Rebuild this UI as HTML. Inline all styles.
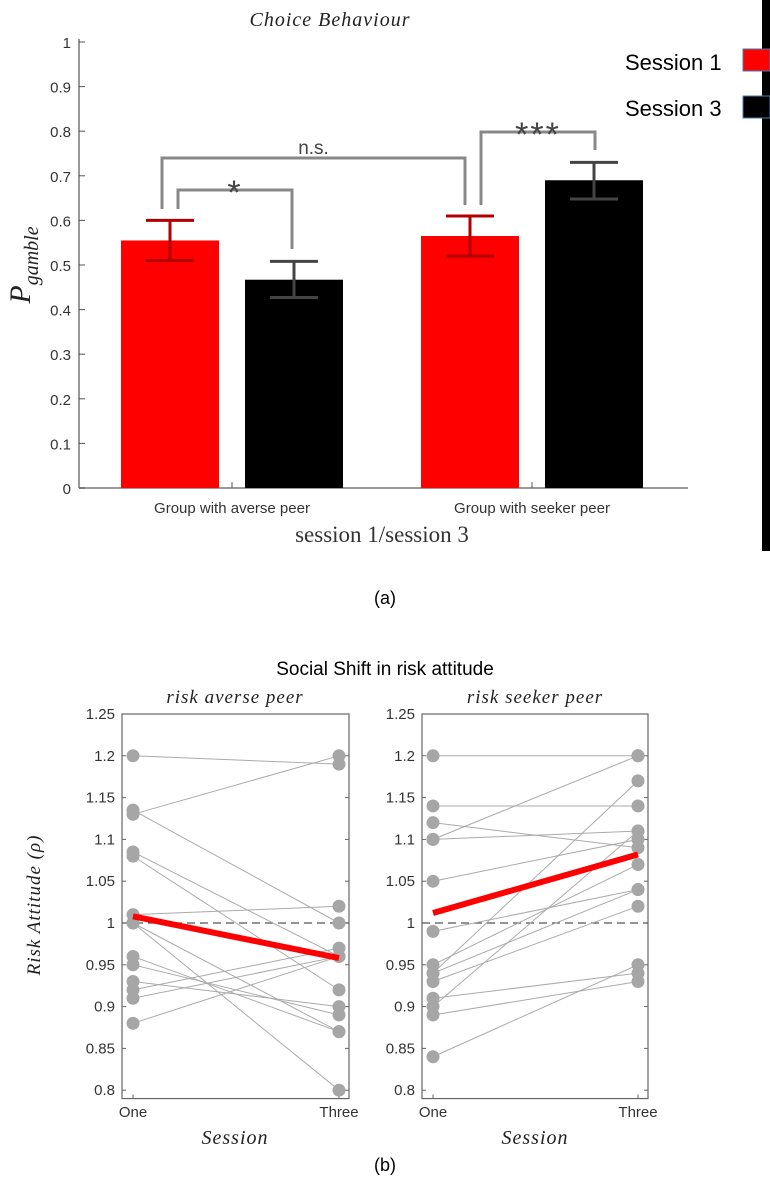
<!DOCTYPE html>
<html><head><meta charset="utf-8"><style>
body{margin:0;background:#fff;width:770px;height:1180px;overflow:hidden}
svg{display:block}
.tk{font-family:"Liberation Sans",sans-serif;font-size:15px;fill:#333}
.it{font-family:"Liberation Serif",serif;font-style:italic}
</style></head><body>
<svg id="s" width="770" height="1180">
<rect x="762" y="0" width="8" height="551" fill="#000"/>
<text x="330" y="26" text-anchor="middle" class="it" font-size="20" fill="#222" letter-spacing="1">Choice Behaviour</text>
<g>
<text x="625" y="70" font-family="Liberation Sans,sans-serif" font-size="22" fill="#000">Session 1</text>
<rect x="743" y="49" width="27" height="22" fill="#f00" stroke="#4a7ab0"/>
<text x="625" y="116" font-family="Liberation Sans,sans-serif" font-size="22" fill="#000">Session 3</text>
<rect x="743" y="96" width="27" height="22" fill="#000" stroke="#4a7ab0"/>
</g>
<text transform="translate(30,265) rotate(-90)" text-anchor="middle" class="it" font-size="30" fill="#222">P<tspan font-size="20" dy="8">gamble</tspan></text>
<text x="382" y="542" text-anchor="middle" font-family="Liberation Serif,serif" font-size="23" fill="#333">session 1/session 3</text>
<text x="385" y="604" text-anchor="middle" font-family="Liberation Sans,sans-serif" font-size="18" fill="#000">(a)</text>
<text x="385" y="675" text-anchor="middle" font-family="Liberation Sans,sans-serif" font-size="19" fill="#000">Social Shift in risk attitude</text>
<text x="235" y="703" text-anchor="middle" class="it" font-size="19" fill="#222" letter-spacing="1">risk averse peer</text>
<text x="535" y="703" text-anchor="middle" class="it" font-size="19" fill="#222" letter-spacing="1">risk seeker peer</text>
<text transform="translate(40,905) rotate(-90)" text-anchor="middle" class="it" font-size="19" fill="#222" letter-spacing="1">Risk Attitude (ρ)</text>
<text x="235" y="1144" text-anchor="middle" class="it" font-size="20" fill="#222" letter-spacing="1">Session</text>
<text x="535" y="1144" text-anchor="middle" class="it" font-size="20" fill="#222" letter-spacing="1">Session</text>
<text x="385" y="1171" text-anchor="middle" font-family="Liberation Sans,sans-serif" font-size="18" fill="#000">(b)</text>
</svg>
<script>
const NS="http://www.w3.org/2000/svg";
const svg=document.getElementById('s');
const groups=["Group with averse peer","Group with seeker peer"];
const session1=[0.555,0.565];
const session3=[0.467,0.69];
const err1Lo=[0.51,0.52],err1Hi=[0.6,0.61];
const err3Lo=[0.427,0.648],err3Hi=[0.508,0.73];
const yTicks=[0,0.1,0.2,0.3,0.4,0.5,0.6,0.7,0.8,0.9,1];
const averseOne=[1.2,1.13,1.135,1.085,1.08,1.01,1.0,1.0,0.96,0.95,0.93,0.92,0.91,0.88];
const averseThree=[1.19,1.2,1.0,0.96,0.92,1.02,0.87,0.8,0.87,0.89,0.9,0.97,0.96,0.96];
const seekerOne=[1.2,1.14,1.12,1.1,1.1,1.05,0.99,0.95,0.94,0.94,0.93,0.91,0.9,0.89,0.84];
const seekerThree=[1.2,1.14,1.09,1.2,1.11,1.1,1.04,1.07,1.04,1.17,1.02,0.94,1.11,0.93,0.95];
const meanAverse=[1.008,0.958];
const meanSeeker=[1.012,1.082];
const rTicks=[0.8,0.85,0.9,0.95,1,1.05,1.1,1.15,1.2,1.25];
function el(t,a,p){const e=document.createElementNS(NS,t);for(const k in a)e.setAttribute(k,a[k]);(p||svg).appendChild(e);return e;}
const yB=v=>488-v*446;
const ax=el('line',{x1:79,y1:39,x2:79,y2:488,stroke:'#555','stroke-width':1.2});

const bx=el('line',{x1:79,y1:488,x2:688,y2:488,stroke:'#999','stroke-width':2});

yTicks.forEach(v=>{el('line',{x1:79,y1:yB(v),x2:85,y2:yB(v),stroke:'#555'});
const t=el('text',{x:71,y:yB(v)+6,'text-anchor':'end',class:'tk'});t.textContent=v===0||v===1?String(v):v.toFixed(1);
});
const gx=[232,532];
groups.forEach((g,i)=>{
 el('line',{x1:gx[i],y1:488,x2:gx[i],y2:482,stroke:'#555'});
 const t=el('text',{x:gx[i],y:513,'text-anchor':'middle',class:'tk'});t.textContent=g;
 
 const c1=gx[i]-62,c3=gx[i]+62;
 const r1=el('rect',{x:c1-49,y:yB(session1[i]),width:98,height:488-yB(session1[i]),fill:'#f00'});
 
 const r3=el('rect',{x:c3-49,y:yB(session3[i]),width:98,height:488-yB(session3[i]),fill:'#000'});
 
 [[c1,err1Lo[i],err1Hi[i],'#b00000'],[c3,err3Lo[i],err3Hi[i],'#444']].forEach(([c,lo,hi,col])=>{
  const eb=el('path',{d:`M${c} ${yB(lo)}V${yB(hi)}M${c-24} ${yB(hi)}H${c+24}M${c-24} ${yB(lo)}H${c+24}`,stroke:col,'stroke-width':3,fill:'none'});
  
 });
});
function bracket(x1,l1,x2,l2,yt,label,name){
 const p=el('path',{d:`M${x1} ${l1}V${yt}H${x2}V${l2}`,stroke:'#888','stroke-width':3,fill:'none'});
 
 const big=label!=='n.s.';
 const t=el('text',{x:(x1+x2)/2,y:big?yt+14:yt-4,'text-anchor':'middle',style:`font-family:"Liberation Sans",sans-serif;font-size:${big?34:19}px;fill:#444;letter-spacing:${big?2:0}px`});t.textContent=label;
 
}
bracket(162,209,465,205,158,'n.s.','bracket-ns');
bracket(178,209,292,249,190,'*','bracket-averse');
bracket(481,205,595,150,132,'***','bracket-seeker');
const yR=v=>923+(1-v)*836;
function panel(L,R,one,three,mean,name){
 const px1=L+11,px2=R-10;
 const f=el('rect',{x:L,y:yR(1.25),width:R-L,height:yR(0.79)-yR(1.25),fill:'none',stroke:'#666','stroke-width':1.2});
 
 rTicks.forEach(v=>{el('line',{x1:L,y1:yR(v),x2:L+4,y2:yR(v),stroke:'#666'});el('line',{x1:R,y1:yR(v),x2:R-4,y2:yR(v),stroke:'#666'});
  const t=el('text',{x:L-7,y:yR(v)+5,'text-anchor':'end',class:'tk'});t.textContent=String(v);
  });
 [[px1,'One'],[px2,'Three']].forEach(([x,s])=>{el('line',{x1:x,y1:yR(0.79),x2:x,y2:yR(0.79)-4,stroke:'#666'});
  const t=el('text',{x:x,y:1117,'text-anchor':'middle',class:'tk'});t.textContent=s;
  });
 const d=el('line',{x1:L,y1:yR(1),x2:R,y2:yR(1),stroke:'#555','stroke-dasharray':'8 5','stroke-width':1.2});
 
 one.forEach((v,i)=>{const l=el('line',{x1:px1,y1:yR(v),x2:px2,y2:yR(three[i]),stroke:'#aaa','stroke-width':1});
  });
 one.forEach(v=>{const c=el('circle',{cx:px1,cy:yR(v),r:6.5,fill:'#a6a6a6'});});
 three.forEach(v=>{const c=el('circle',{cx:px2,cy:yR(v),r:6.5,fill:'#a6a6a6'});});
 const m=el('line',{x1:px1,y1:yR(mean[0]),x2:px2,y2:yR(mean[1]),stroke:'#f00','stroke-width':6});
 
}
panel(122,349,averseOne,averseThree,meanAverse,'averse-panel');
panel(422,648,seekerOne,seekerThree,meanSeeker,'seeker-panel');
</script>
</body></html>
